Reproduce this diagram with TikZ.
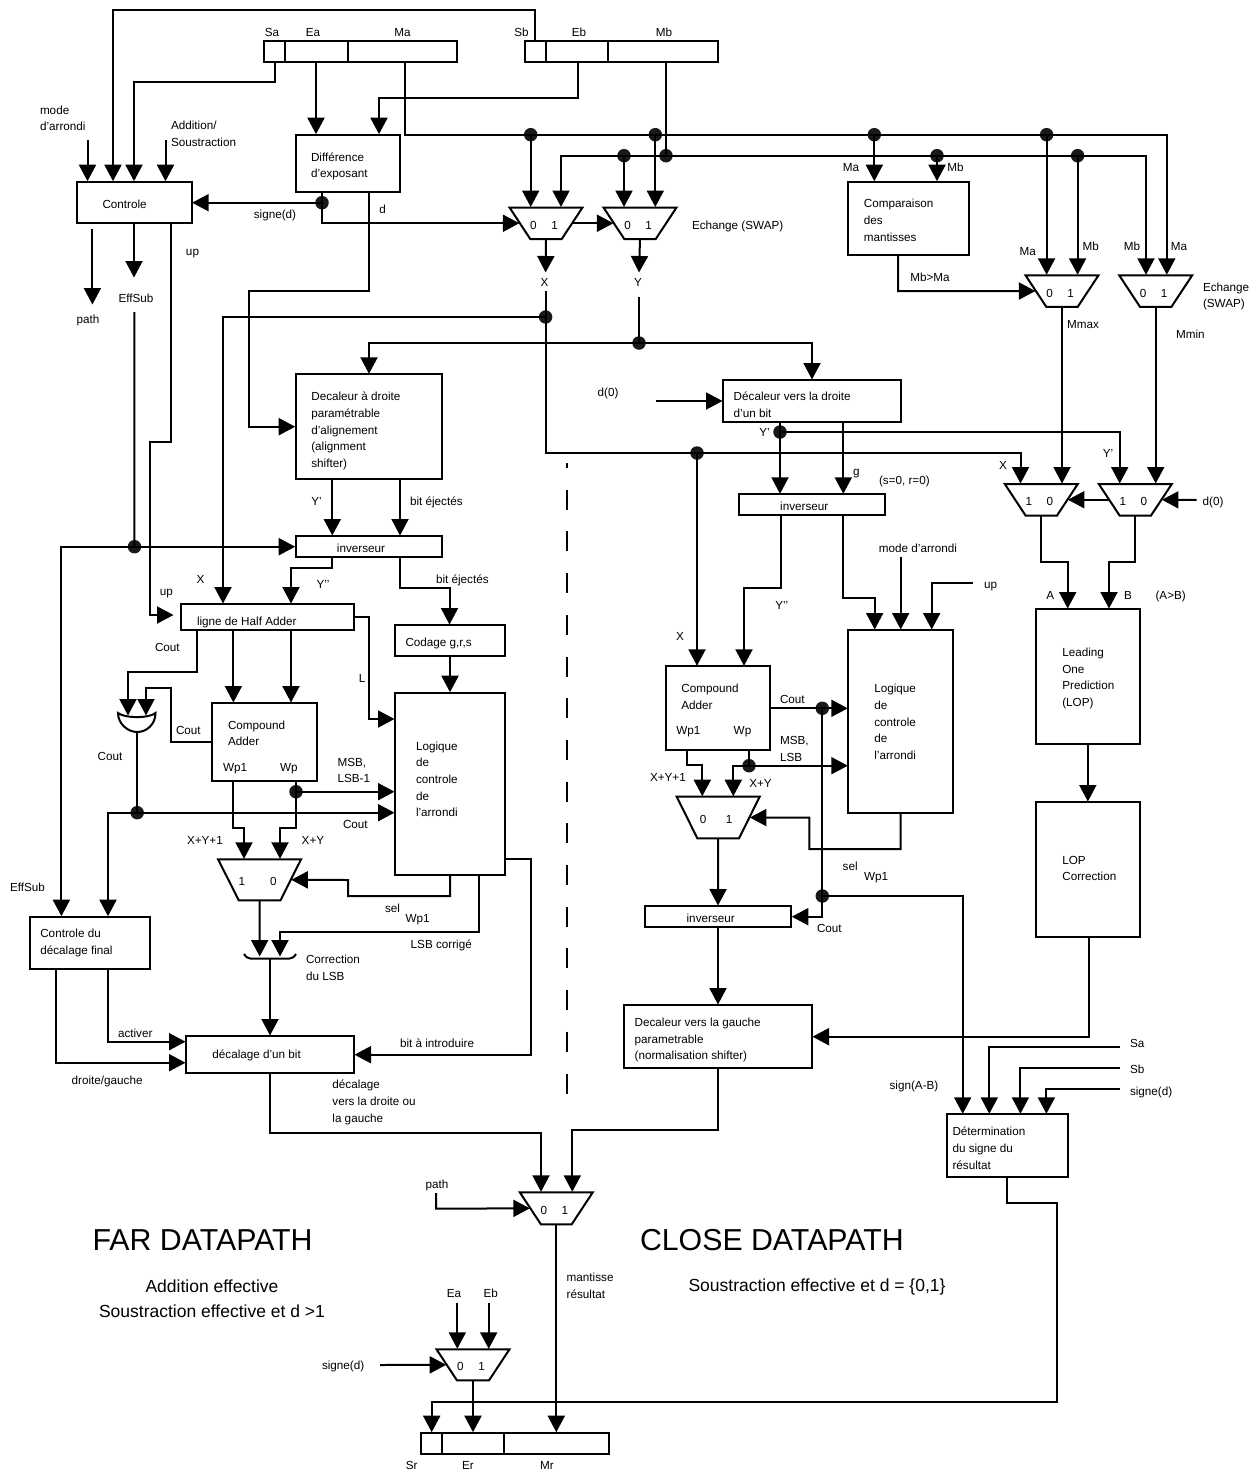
\documentclass[tikz,border=0pt]{standalone}
\usepackage{fontspec}
\setmainfont{Liberation Sans}
\usetikzlibrary{arrows.meta,shapes.geometric,calc}
\newcounter{lblc}
\newcommand\Zs{\rule[-3pt]{0pt}{14pt}}
\tikzset{
  wire/.style={line width=2pt,line join=miter,draw=black},
  arw/.style={wire,-{Triangle[width=17pt,length=16.5pt]},shorten >=0.5pt},
  blockbox/.style={draw=black,line width=2pt,rectangle,inner sep=0pt,outer sep=0pt},
  muxshape/.style={draw=black,line width=2pt,trapezium,shape border rotate=180,
    outer sep=0pt,font=\fontsize{11.7}{14}\selectfont},
  dotnode/.style={circle,fill=black!90,draw=none,minimum size=13.5pt,inner sep=0pt,outer sep=0pt},
  lbl/.style={inner sep=0pt,outer sep=0pt,font=\fontsize{11.7}{16.7}\selectfont,align=left,anchor=west},
  lblc/.style={lbl,anchor=center,align=center},
  bigtitle/.style={inner sep=0pt,outer sep=0pt,font=\fontsize{30.3}{32}\selectfont,anchor=west},
  subtitle/.style={inner sep=0pt,outer sep=0pt,font=\fontsize{17.5}{25}\selectfont,align=center},
  sepline/.style={line width=2pt,dash pattern=on 20pt off 21.7pt,dash phase=15pt},
  gateline/.style={line width=2pt,draw=black}
}
\newcommand\blocknode[5]{\node[blockbox,minimum width={(#4-#2)*1pt},minimum height={(#5-#3)*1pt}] (#1) at ({(#2+#4)/2},{(#3+#5)/2}) {};}
% name, cx, ytop, w, h, angle, left digit, right digit, gap
\newcommand\muxnode[9]{\node[muxshape,inner xsep={(#4-2*#5/tan(#6))/2*1pt},inner ysep={#5/2*1pt},trapezium left angle=#6,trapezium right angle=#6] (#1) at (#2,{#3+#5/2}) {\raisebox{-6pt}[0pt][0pt]{\makebox[0pt]{#7\hspace{#9pt}#8\hspace{4pt}}}};}
\newcommand\tlab[3]{\stepcounter{lblc}\node[lbl] (lbl\arabic{lblc}) at (#1,#2) {\Zs #3\Zs};}
\newcommand\clab[3]{\stepcounter{lblc}\node[lblc] (lbl\arabic{lblc}) at (#1,#2) {\Zs #3\Zs};}
\newcommand\dotn[3]{\node[dotnode] (#1) at (#2,#3) {};}
\begin{document}
\begin{tikzpicture}[x=1pt,y=-1pt]
\useasboundingbox (0,0) rectangle (1260,1470);
% registers
\blocknode{sa}{264}{41}{285}{62}
\blocknode{ea}{285}{41}{348}{62}
\blocknode{ma}{348}{41}{457}{62}
\blocknode{sb}{525}{41}{546}{62}
\blocknode{eb}{546}{41}{608}{62}
\blocknode{mb}{608}{41}{718}{62}
\blocknode{sr}{420.7}{1432.7}{441.7}{1453.7}
\blocknode{er}{441.7}{1432.7}{504.3}{1453.7}
\blocknode{mr}{504.3}{1432.7}{609}{1453.7}
% blocks
\blocknode{ctrl}{76.5}{181.7}{191.6}{223}
\blocknode{diff}{296}{134.7}{400}{192}
\blocknode{cmp}{848}{181.7}{968.7}{255}
\blocknode{shR}{295.7}{374.3}{442}{478.7}
\blocknode{shOne}{723}{380}{901}{421.7}
\blocknode{invF}{295.7}{536}{442}{557}
\blocknode{invC}{738.7}{494.3}{885}{515.3}
\blocknode{ha}{181}{604}{354}{629.7}
\blocknode{codage}{395}{625}{505}{656}
\blocknode{logF}{395}{692.7}{505}{875}
\blocknode{caF}{212.4}{703}{317}{781.3}
\blocknode{ctrlS}{29.6}{916.7}{150}{969}
\blocknode{shBit}{186}{1036}{354}{1073}
\blocknode{caC}{666}{666.3}{770.3}{749.7}
\blocknode{logC}{848.3}{630}{952.7}{812.7}
\blocknode{invD}{644.7}{906}{791.3}{927.3}
\blocknode{norm}{623.6}{1005}{812}{1067.7}
\blocknode{lop}{1035.7}{609}{1140}{744.3}
\blocknode{lopc}{1035.7}{802}{1140}{937.3}
\blocknode{det}{947}{1114.3}{1067.5}{1177.3}
% multiplexers
\muxnode{muxA}{546}{207.5}{73}{31.5}{56.6}{0}{1}{14.5}
\muxnode{muxB}{640}{207.5}{73}{31.5}{56.6}{0}{1}{14.5}
\muxnode{muxC}{1062}{275.3}{73}{31.5}{56.6}{0}{1}{14.5}
\muxnode{muxD}{1155.7}{275.3}{73}{31.5}{56.6}{0}{1}{14.5}
\muxnode{muxX}{1041.3}{484}{73}{31.5}{56.6}{1}{0}{14.5}
\muxnode{muxY}{1135.3}{484}{73}{31.5}{56.6}{1}{0}{14.5}
\muxnode{muxF}{259.6}{859.3}{83}{41}{63.3}{1}{0}{25}
\muxnode{muxG}{718.2}{796.7}{83}{41.6}{63.6}{0}{1}{19.5}
\muxnode{muxP}{556.3}{1192.3}{73}{32}{56.6}{0}{1}{14.5}
\muxnode{muxE}{473}{1349.3}{73}{31}{56.6}{0}{1}{14.5}
% junction dots
\dotn{dSign}{322}{202.7}
\dotn{dMaA}{530.7}{134.7}
\dotn{dMaB}{655.3}{134.7}
\dotn{dMaC}{874.3}{134.7}
\dotn{dMaD}{1046.6}{134.7}
\dotn{dMbA}{624}{155.7}
\dotn{dMbB}{666}{155.7}
\dotn{dMbC}{937}{155.7}
\dotn{dMbD}{1077.6}{155.7}
\dotn{dX}{545.6}{317}
\dotn{dY}{639}{343}
\dotn{dXb}{697}{453}
\dotn{dYp}{780}{432}
\dotn{dEff}{134.5}{546.7}
\dotn{dOr}{137.2}{812.7}
\dotn{dWp}{296}{791.7}
\dotn{dCa}{822.3}{708.3}
\dotn{dCb}{822.3}{896}
\dotn{dWq}{749}{765.7}
% free ends
\coordinate (cMode) at (87.5,140);
\coordinate (cAdd) at (165.5,140);
\coordinate (cPathA) at (92.4,228.7);
\coordinate (cPathB) at (92.4,305);
\coordinate (cEffTip) at (134,278);
\coordinate (cEffRes) at (134.3,312);
\coordinate (cXTip) at (545.6,273);
\coordinate (cXRes) at (545.6,291);
\coordinate (cYTip) at (639,273);
\coordinate (cYRes) at (639,297);
\coordinate (cUpTip) at (174,615);
\coordinate (cDz) at (656,401);
\coordinate (cDzb) at (1196.7,500);
\coordinate (cModeB) at (900.7,557.3);
\coordinate (cUpB) at (973.3,583.3);
\coordinate (cSa) at (1119.6,1047.3);
\coordinate (cSb) at (1119.6,1068);
\coordinate (cSd) at (1119.6,1088.7);
\coordinate (cPathS) at (436,1193);
\coordinate (cEa) at (457.3,1302.7);
\coordinate (cEb) at (488.7,1302.7);
\coordinate (cSignE) at (380,1365);
\coordinate (orInA) at (128,716);
\coordinate (orInB) at (146,716);
\coordinate (orOut) at (137.2,732);
\coordinate (gtInA) at (259.7,957);
\coordinate (gtInB) at (280,957);
\coordinate (gtOut) at (270,958.7);
% OR gate and LSB correction gate
\draw[gateline] (118,713) .. controls (125,718.5) and (149,718.5) .. (155.5,713)
  .. controls (155.5,724) and (147,732) .. (orOut) .. controls (128,732) and (118,724) .. (118,713) -- cycle;
\draw[gateline] (244,954) .. controls (246,957) and (248,958.7) .. (251,958.7) -- (289,958.7) .. controls (292,958.7) and (294,957) .. (296,954);
% separator
\draw[sepline] (567,463) -- (567,1095);
% top-left connectors
\draw[arw] (535,0 |- sb.north) -- (535,10) -- (113,10) -- (113,0 |- ctrl.north);
\draw[arw] (275,0 |- sa.south) -- (275,82) -- (134,82) -- (134,0 |- ctrl.north);
\draw[arw] (cMode) -- (cMode |- ctrl.north);
\draw[arw] (cAdd) -- (cAdd |- ctrl.north);
\draw[arw] (316,0 |- ea.south) -- (316,0 |- diff.north);
\draw[arw] (577.5,0 |- eb.south) -- (577.5,98) -- (379,98) -- (379,0 |- diff.north);
\draw[arw] (405,0 |- ma.south) -- (405,134.7) -- (1166.8,134.7) -- (1166.8,0 |- muxD.north);
\draw[wire] (666,0 |- mb.south) -- (dMbB.center);
\draw[arw] (dMbB.center) -- (561,155.7) -- (561,0 |- muxA.north);
\draw[arw] (dMbB.center) -- (1146,155.7) -- (1146,0 |- muxD.north);
\draw[arw] (dMaA.center) -- (dMaA |- muxA.north);
\draw[arw] (dMaB.center) -- (dMaB |- muxB.north);
\draw[arw] (dMbA.center) -- (dMbA |- muxB.north);
\draw[arw] (dMaC.center) -- (dMaC |- cmp.north);
\draw[arw] (dMbC.center) -- (dMbC |- cmp.north);
\draw[arw] (dMaD.center) -- (dMaD |- muxC.north);
\draw[arw] (dMbD.center) -- (dMbD |- muxC.north);
\draw[wire] (dSign |- diff.south) -- (dSign.center);
\draw[arw] (dSign.center) -- (ctrl.east |- dSign);
\draw[arw] (dSign.center) -- (dSign |- muxA.west) -- (muxA.west);
\draw[arw] (muxA.east) -- (muxB.west);
\draw[arw] (369,0 |- diff.south) -- (369,291) -- (249,291) -- (249,426.7) -- (shR.west |- 0,426.7);
\draw[arw] (cPathA) -- (cPathB);
\draw[arw] (134,0 |- ctrl.south) -- (cEffTip);
\draw[wire] (cEffRes) -- (dEff.center);
\draw[arw] (170.5,0 |- ctrl.south) -- (170.5,442.3) -- (150,442.3) -- (150,615) -- (cUpTip);
\draw[arw] (dEff.center) -- (invF.west |- dEff);
\draw[arw] (dEff.center) -- (61.4,546.7) -- (61.4,0 |- ctrlS.north);
% X and Y
\draw[arw] (muxA.south) -- (cXTip);
\draw[wire] (cXRes) -- (dX.center);
\draw[arw] (dX.center) -- (545.6,453) -- (1020.5,453) -- (1020.5,0 |- muxX.north);
\draw[arw] (dX.center) -- (223,317) -- (223,0 |- ha.north);
\draw[arw] (dXb.center) -- (dXb |- caC.north);
\draw[arw] (muxB.south) -- (cYTip);
\draw[wire] (cYRes) -- (dY.center);
\draw[arw] (dY.center) -- (369,343) -- (369,0 |- shR.north);
\draw[arw] (dY.center) -- (812,343) -- (812,0 |- shOne.north);
% far path
\draw[arw] (332.3,0 |- shR.south) -- (332.3,0 |- invF.north);
\draw[arw] (400,0 |- shR.south) -- (400,0 |- invF.north);
\draw[arw] (332.3,0 |- invF.south) -- (332.3,567.7) -- (291,567.7) -- (291,0 |- ha.north);
\draw[arw] (400,0 |- invF.south) -- (400,588.3) -- (449.5,588.3) -- (449.5,0 |- codage.north);
\draw[arw] (codage.south) -- (logF.north);
\draw[arw] (197.2,0 |- ha.south) -- (197.2,671.7) -- (128,671.7) -- (orInA);
\draw[arw] (233.4,0 |- ha.south) -- (233.4,0 |- caF.north);
\draw[arw] (291,0 |- ha.south) -- (291,0 |- caF.north);
\draw[arw] (ha.east |- 0,617) -- (369,617) -- (369,719) -- (logF.west |- 0,719);
\draw[arw] (caF.west |- 0,742) -- (170.7,742) -- (170.7,687.7) -- (146,687.7) -- (orInB);
\draw[wire] (orOut) -- (dOr.center);
\draw[arw] (dOr.center) -- (logF.west |- dOr);
\draw[arw] (dOr.center) -- (108,812.7) -- (108,0 |- ctrlS.north);
\draw[wire] (dWp |- caF.south) -- (dWp.center);
\draw[arw] (dWp.center) -- (logF.west |- dWp);
\draw[arw] (dWp.center) -- (296,828) -- (280,828) -- (280,0 |- muxF.north);
\draw[arw] (233.4,0 |- caF.south) -- (233.4,828) -- (244,828) -- (244,0 |- muxF.north);
\draw[arw] (450,0 |- logF.south) -- (450,896) -- (348,896) -- (348,880) -- (muxF.east);
\draw[arw] (479,0 |- logF.south) -- (479,932) -- (280,932) -- (gtInB);
\draw[arw] (muxF.south) -- (gtInA);
\draw[arw] (gtOut) -- (gtOut |- shBit.north);
\draw[arw] (108,0 |- ctrlS.south) -- (108,1041.7) -- (shBit.west |- 0,1041.7);
\draw[arw] (56,0 |- ctrlS.south) -- (56,1062.7) -- (shBit.west |- 0,1062.7);
\draw[arw] (logF.east |- 0,859.3) -- (531,859.3) -- (531,1054.7) -- (shBit.east |- 0,1054.7);
\draw[arw] (270,0 |- shBit.south) -- (270,1133) -- (541,1133) -- (541,0 |- muxP.north);
% close path
\draw[arw] (cDz) -- (shOne.west |- cDz);
\draw[wire] (dYp |- shOne.south) -- (dYp.center);
\draw[arw] (dYp.center) -- (dYp |- invC.north);
\draw[arw] (dYp.center) -- (1119.7,432) -- (1119.7,0 |- muxY.north);
\draw[arw] (843.3,0 |- shOne.south) -- (843.3,0 |- invC.north);
\draw[arw] (780.7,0 |- invC.south) -- (780.7,588) -- (744,588) -- (744,0 |- caC.north);
\draw[arw] (843.3,0 |- invC.south) -- (843.3,598.3) -- (874.7,598.3) -- (874.7,0 |- logC.north);
\draw[arw] (cModeB) -- (cModeB |- logC.north);
\draw[arw] (cUpB) -- (931.7,583.3) -- (931.7,0 |- logC.north);
\draw[wire] (caC.east |- dCa) -- (dCa.center);
\draw[arw] (dCa.center) -- (logC.west |- dCa);
\draw[wire] (dCa.center) -- (dCb.center);
\draw[arw] (dCb.center) -- (822.3,916.7) -- (invD.east |- 0,916.7);
\draw[arw] (dCb.center) -- (962.7,896) -- (962.7,0 |- det.north);
\draw[wire] (dWq |- caC.south) -- (dWq.center);
\draw[arw] (dWq.center) -- (logC.west |- dWq);
\draw[arw] (dWq.center) -- (733.3,765.7) -- (733.3,0 |- muxG.north);
\draw[arw] (687,0 |- caC.south) -- (687,765.3) -- (702.3,765.3) -- (702.3,0 |- muxG.north);
\draw[arw] (900.7,0 |- logC.south) -- (900.7,849) -- (809.3,849) -- (809.3,817.7) -- (muxG.east);
\draw[arw] (muxG.south) -- (invD.north);
\draw[arw] (718,0 |- invD.south) -- (718,0 |- norm.north);
\draw[arw] (718,0 |- norm.south) -- (718,1130.3) -- (572.3,1130.3) -- (572.3,0 |- muxP.north);
% right side
\draw[arw] (898,0 |- cmp.south) -- (898,291) -- (muxC.west);
\draw[arw] (muxC.south) -- (muxC.south |- muxX.north);
\draw[arw] (muxD.south) -- (muxD.south |- muxY.north);
\draw[arw] (muxY.west) -- (muxX.east);
\draw[arw] (cDzb) -- (muxY.east);
\draw[arw] (muxX.south) -- (1041.3,562.3) -- (1067.7,562.3) -- (1067.7,0 |- lop.north);
\draw[arw] (muxY.south) -- (1135.3,562.3) -- (1109,562.3) -- (1109,0 |- lop.north);
\draw[arw] (lop.south) -- (lopc.north);
\draw[arw] (1088.6,0 |- lopc.south) -- (1088.6,1036.7) -- (norm.east |- 0,1036.7);
\draw[arw] (cSa) -- (989.3,1047.3) -- (989.3,0 |- det.north);
\draw[arw] (cSb) -- (1020.4,1068) -- (1020.4,0 |- det.north);
\draw[arw] (cSd) -- (1046.4,1088.7) -- (1046.4,0 |- det.north);
% bottom
\draw[arw] (cPathS) -- (436,1208.7) -- (muxP.west);
\draw[arw] (muxP.south) -- (muxP.south |- mr.north);
\draw[arw] (cEa) -- (cEa |- muxE.north);
\draw[arw] (cEb) -- (cEb |- muxE.north);
\draw[arw] (cSignE) -- (muxE.west);
\draw[arw] (muxE.south) -- (muxE.south |- er.north);
\draw[arw] (1007,0 |- det.south) -- (1007,1203.3) -- (1056.8,1203.3) -- (1056.8,1401.7) -- (431.7,1401.7) -- (431.7,0 |- sr.north);
% texts
\clab{272}{32}{Sa}
\clab{313}{32}{Ea}
\clab{402.6}{32}{Ma}
\clab{521.5}{32}{Sb}
\clab{579}{32}{Eb}
\clab{664}{32}{Mb}
\tlab{40}{118.5}{mode\\d'arrondi}
\tlab{171}{134}{Addition/\\Soustraction}
\tlab{102.5}{204}{Controle}
\tlab{311}{165.5}{Différence\\d'exposant}
\clab{275}{214}{signe(d)}
\clab{382.5}{209}{d}
\clab{192.5}{251}{up}
\clab{136}{298}{EffSub}
\clab{88}{319}{path}
\clab{544.5}{282}{X}
\clab{638}{282}{Y}
\tlab{692}{225}{Echange (SWAP)}
\clab{851}{167}{Ma}
\clab{955.4}{167}{Mb}
\tlab{863.8}{220.5}{Comparaison\\des\\mantisses}
\tlab{910.4}{277}{Mb>Ma}
\clab{1027.8}{251}{Ma}
\clab{1090.8}{246}{Mb}
\clab{1132}{246}{Mb}
\clab{1179}{246}{Ma}
\tlab{1203}{295.5}{Echange\\(SWAP)}
\tlab{1067}{324}{Mmax}
\tlab{1176}{334}{Mmin}
\clab{608}{392}{d(0)}
\tlab{733.7}{405}{Décaleur vers la droite\\d'un bit}
\clab{764.6}{432}{Y'}
\clab{1108}{453}{Y'}
\clab{1003}{465}{X}
\tlab{853}{471}{g}
\tlab{879}{480}{(s=0, r=0)}
\clab{804.3}{506}{inverseur}
\tlab{1202.7}{501}{d(0)}
\tlab{311.3}{430}{Decaleur à droite\\paramétrable\\d'alignement\\(alignment\\shifter)}
\clab{316.5}{501}{Y'}
\tlab{410}{501}{bit éjectés}
\clab{361}{548}{inverseur}
\clab{323}{584}{Y'{}'}
\tlab{436}{579}{bit éjectés}
\clab{200.5}{579}{X}
\clab{166.5}{591}{up}
\tlab{197}{621}{ligne de Half Adder}
\tlab{405.5}{642}{Codage g,r,s}
\tlab{155}{647}{Cout}
\clab{362}{678}{L}
\tlab{228}{733.5}{Compound\\Adder}
\tlab{176}{730}{Cout}
\tlab{97.6}{756}{Cout}
\tlab{223}{767}{Wp1}
\tlab{280}{767}{Wp}
\tlab{337.6}{770.5}{MSB,\\LSB-1}
\tlab{416}{779.5}{Logique\\de\\controle\\de\\l'arrondi}
\tlab{343}{824}{Cout}
\tlab{187}{840}{X+Y+1}
\tlab{301.7}{840}{X+Y}
\tlab{385}{908}{sel}
\tlab{405.5}{918}{Wp1}
\tlab{10}{887}{EffSub}
\tlab{410.7}{944}{LSB corrigé}
\tlab{306}{968}{Correction\\du LSB}
\tlab{40.3}{942}{Controle du\\décalage final}
\tlab{118}{1033}{activer}
\tlab{71.7}{1080}{droite/gauche}
\tlab{212.4}{1054}{décalage d'un bit}
\tlab{400}{1043}{bit à introduire}
\tlab{332.4}{1101.5}{décalage\\vers la droite ou\\la gauche}
\clab{781.7}{605}{Y'{}'}
\clab{918}{548}{mode d'arrondi}
\tlab{984}{584}{up}
\clab{680}{636.7}{X}
\tlab{681.3}{697}{Compound\\Adder}
\tlab{780}{699}{Cout}
\tlab{676.3}{730}{Wp1}
\tlab{733.7}{730}{Wp}
\tlab{780}{749}{MSB,\\LSB}
\tlab{874.3}{722}{Logique\\de\\controle\\de\\l'arrondi}
\tlab{650}{777}{X+Y+1}
\tlab{749.3}{783}{X+Y}
\tlab{842.7}{866}{sel}
\tlab{864}{876}{Wp1}
\clab{710.7}{918}{inverseur}
\tlab{817}{928}{Cout}
\tlab{634.6}{1039}{Decaleur vers la gauche\\parametrable\\(normalisation shifter)}
\clab{1050.3}{595}{A}
\clab{1128}{595}{B}
\clab{1170.7}{595}{(A>B)}
\tlab{1062.3}{677.5}{Leading\\One\\Prediction\\(LOP)}
\tlab{1062.3}{868.5}{LOP\\Correction}
\clab{914}{1085}{sign(A-B)}
\tlab{1130}{1043}{Sa}
\tlab{1130}{1069}{Sb}
\tlab{1130}{1091}{signe(d)}
\tlab{952.5}{1148.5}{Détermination\\du signe du\\résultat}
\clab{437}{1184.7}{path}
\tlab{566.7}{1286}{mantisse\\résultat}
\clab{454}{1293}{Ea}
\clab{490.7}{1293}{Eb}
\tlab{322}{1365}{signe(d)}
\clab{411.7}{1465}{Sr}
\clab{468}{1465}{Er}
\clab{547}{1465}{Mr}
\node[bigtitle] (farTitle) at (92.6,1240) {FAR DATAPATH};
\node[bigtitle] (closeTitle) at (640,1240) {CLOSE DATAPATH};
\node[subtitle] (farSub) at (212,1299) {Addition effective\\Soustraction effective et d >1};
\node[subtitle,anchor=west] (closeSub) at (688.5,1287) {Soustraction effective et d = \{0,1\}};
\end{tikzpicture}
\end{document}
